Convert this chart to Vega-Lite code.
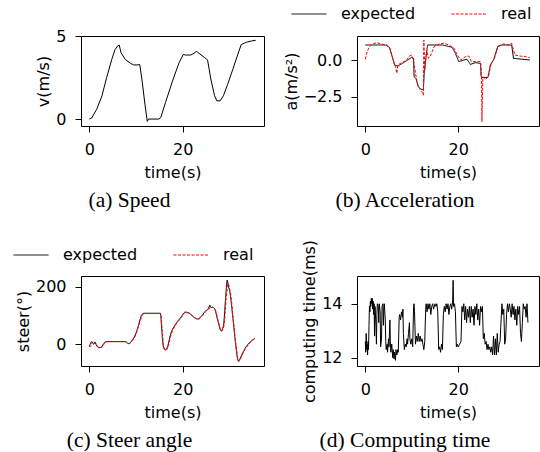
{
  "$schema": "https://vega.github.io/schema/vega-lite/v6.json",
  "padding": {"left": 12, "top": 5, "right": 0, "bottom": 0},
  "background": "white",
  "config": {
    "font": "DejaVu Sans",
    "view": {"stroke": "black", "strokeWidth": 1},
    "axis": {"domain": false, "grid": false, "tickColor": "black", "tickSize": 6, "tickWidth": 1, "labelFont": "DejaVu Sans", "labelFontSize": 16, "labelColor": "black", "titleFont": "DejaVu Sans", "titleFontSize": 16, "titleFontWeight": "normal", "titleColor": "black"},
    "axisX": {"labelPadding": 9, "titlePadding": 7},
    "axisY": {"labelPadding": 9, "titlePadding": 4},
    "title": {"font": "Liberation Serif", "fontSize": 21.5, "fontWeight": "normal", "color": "black", "orient": "bottom", "frame": "group", "dx": -43, "offset": 10}
  },
  "datasets": {
    "speed": [
      {"t":0,"v":0},{"t":0.5,"v":0.06},{"t":1.6,"v":0.6},{"t":2.7,"v":1.4},{"t":3.7,"v":2.5},{"t":4.8,"v":3.6},{"t":5.5,"v":4.2},{"t":6.1,"v":4.43},{"t":6.4,"v":4.47},{"t":6.8,"v":4.0},{"t":7.7,"v":3.6},{"t":8.8,"v":3.37},{"t":9.5,"v":3.27},{"t":10.2,"v":3.27},{"t":10.8,"v":3.29},{"t":11.3,"v":2.3},{"t":11.9,"v":0.9},{"t":12.4,"v":-0.14},{"t":12.7,"v":0},{"t":14.9,"v":0},{"t":15.3,"v":0.1},{"t":16.3,"v":1.0},{"t":17.8,"v":2.3},{"t":19.2,"v":3.4},{"t":20.1,"v":3.9},{"t":20.6,"v":3.87},{"t":21.7,"v":3.87},{"t":22.4,"v":3.97},{"t":22.9,"v":4.09},{"t":23.5,"v":3.97},{"t":24.6,"v":3.73},{"t":25.3,"v":3.57},{"t":26.0,"v":2.42},{"t":26.8,"v":1.41},{"t":27.3,"v":1.1},{"t":28.0,"v":1.1},{"t":28.7,"v":1.41},{"t":29.6,"v":2.1},{"t":30.7,"v":3.0},{"t":31.8,"v":3.93},{"t":32.5,"v":4.5},{"t":33.6,"v":4.64},{"t":34.7,"v":4.72},{"t":35.6,"v":4.76}
    ],
    "accel": [
      {"t":0,"a":1.02,"s":"expected"},{"t":4.5,"a":1.02,"s":"expected"},{"t":5.2,"a":0.86,"s":"expected"},{"t":5.8,"a":0.23,"s":"expected"},{"t":6.3,"a":-0.34,"s":"expected"},{"t":7.0,"a":-0.41,"s":"expected"},{"t":8.0,"a":-0.23,"s":"expected"},{"t":9.1,"a":0,"s":"expected"},{"t":10.0,"a":0.18,"s":"expected"},{"t":10.4,"a":0.11,"s":"expected"},{"t":10.5,"a":-1.14,"s":"expected"},{"t":10.9,"a":-1.25,"s":"expected"},{"t":11.4,"a":-1.8,"s":"expected"},{"t":12.0,"a":-2.0,"s":"expected"},{"t":12.5,"a":-2.0,"s":"expected"},{"t":12.7,"a":-0.9,"s":"expected"},{"t":13.0,"a":0,"s":"expected"},{"t":13.4,"a":1.02,"s":"expected"},{"t":16.6,"a":1.02,"s":"expected"},{"t":18.7,"a":0.86,"s":"expected"},{"t":19.4,"a":0.45,"s":"expected"},{"t":20.1,"a":-0.11,"s":"expected"},{"t":21.2,"a":0,"s":"expected"},{"t":21.9,"a":0.05,"s":"expected"},{"t":22.6,"a":-0.3,"s":"expected"},{"t":23.7,"a":-0.18,"s":"expected"},{"t":24.8,"a":-0.23,"s":"expected"},{"t":24.9,"a":-1.09,"s":"expected"},{"t":25.1,"a":-1.18,"s":"expected"},{"t":26.4,"a":-1.18,"s":"expected"},{"t":26.9,"a":-0.34,"s":"expected"},{"t":27.6,"a":0,"s":"expected"},{"t":28.5,"a":0.91,"s":"expected"},{"t":29.4,"a":1.02,"s":"expected"},{"t":31.5,"a":1.02,"s":"expected"},{"t":31.9,"a":0.11,"s":"expected"},{"t":35.4,"a":0,"s":"expected"},
      {"t":0,"a":0.05,"s":"real"},{"t":0.4,"a":0.57,"s":"real"},{"t":0.9,"a":0.9,"s":"real"},{"t":1.6,"a":1.09,"s":"real"},{"t":2.5,"a":1.18,"s":"real"},{"t":3.4,"a":1.09,"s":"real"},{"t":4.5,"a":1.02,"s":"real"},{"t":5.3,"a":0.8,"s":"real"},{"t":6.0,"a":0,"s":"real"},{"t":6.5,"a":-0.45,"s":"real"},{"t":6.8,"a":-0.9,"s":"real"},{"t":7.0,"a":-0.34,"s":"real"},{"t":7.9,"a":-0.16,"s":"real"},{"t":8.8,"a":-0.05,"s":"real"},{"t":9.5,"a":0.27,"s":"real"},{"t":10.0,"a":0.34,"s":"real"},{"t":10.3,"a":0,"s":"real"},{"t":10.7,"a":-0.68,"s":"real"},{"t":11.2,"a":-1.6,"s":"real"},{"t":11.8,"a":-2.0,"s":"real"},{"t":12.2,"a":-2.16,"s":"real"},{"t":12.5,"a":-2.39,"s":"real"},{"t":12.6,"a":1.36,"s":"real"},{"t":12.8,"a":-0.68,"s":"real"},{"t":13.2,"a":0.68,"s":"real"},{"t":13.6,"a":0.11,"s":"real"},{"t":14.1,"a":0.34,"s":"real"},{"t":14.8,"a":0.9,"s":"real"},{"t":15.9,"a":1.09,"s":"real"},{"t":16.9,"a":1.14,"s":"real"},{"t":18.0,"a":1.02,"s":"real"},{"t":19.1,"a":0.8,"s":"real"},{"t":19.8,"a":0.34,"s":"real"},{"t":20.5,"a":0,"s":"real"},{"t":21.6,"a":0.23,"s":"real"},{"t":22.3,"a":0.27,"s":"real"},{"t":22.8,"a":-0.11,"s":"real"},{"t":24.8,"a":-0.11,"s":"real"},{"t":25.0,"a":-0.9,"s":"real"},{"t":25.1,"a":-4.2,"s":"real"},{"t":25.3,"a":-1.14,"s":"real"},{"t":25.8,"a":-1.32,"s":"real"},{"t":26.5,"a":-1.14,"s":"real"},{"t":27.1,"a":-0.23,"s":"real"},{"t":27.8,"a":0.11,"s":"real"},{"t":28.5,"a":0.91,"s":"real"},{"t":29.7,"a":1.09,"s":"real"},{"t":30.8,"a":1.02,"s":"real"},{"t":31.5,"a":1.14,"s":"real"},{"t":31.9,"a":0.68,"s":"real"},{"t":32.2,"a":0.34,"s":"real"},{"t":33.3,"a":0.27,"s":"real"},{"t":34.4,"a":0.23,"s":"real"},{"t":35.4,"a":0.16,"s":"real"}
    ],
    "steer": [
      {"t":0,"d":-9,"s":"expected"},{"t":0.3,"d":4,"s":"expected"},{"t":0.5,"d":9,"s":"expected"},{"t":0.8,"d":2,"s":"expected"},{"t":1.0,"d":0,"s":"expected"},{"t":1.2,"d":8,"s":"expected"},{"t":1.5,"d":-3,"s":"expected"},{"t":2.0,"d":-12,"s":"expected"},{"t":2.6,"d":-10,"s":"expected"},{"t":3.0,"d":0,"s":"expected"},{"t":3.4,"d":8,"s":"expected"},{"t":3.8,"d":9,"s":"expected"},{"t":5,"d":9,"s":"expected"},{"t":7.7,"d":9,"s":"expected"},{"t":8.4,"d":2,"s":"expected"},{"t":9.1,"d":12,"s":"expected"},{"t":9.9,"d":35,"s":"expected"},{"t":10.6,"d":71,"s":"expected"},{"t":11.2,"d":102,"s":"expected"},{"t":11.7,"d":108,"s":"expected"},{"t":15.2,"d":108,"s":"expected"},{"t":15.5,"d":50,"s":"expected"},{"t":15.8,"d":-4,"s":"expected"},{"t":16.2,"d":-20,"s":"expected"},{"t":16.7,"d":-10,"s":"expected"},{"t":17.4,"d":35,"s":"expected"},{"t":18.5,"d":71,"s":"expected"},{"t":19.6,"d":94,"s":"expected"},{"t":20.5,"d":112,"s":"expected"},{"t":21.4,"d":108,"s":"expected"},{"t":22.4,"d":94,"s":"expected"},{"t":23.2,"d":88,"s":"expected"},{"t":24.1,"d":100,"s":"expected"},{"t":24.8,"d":115,"s":"expected"},{"t":25.5,"d":125,"s":"expected"},{"t":25.8,"d":137,"s":"expected"},{"t":26.0,"d":128,"s":"expected"},{"t":26.4,"d":129,"s":"expected"},{"t":26.8,"d":124,"s":"expected"},{"t":27.5,"d":82,"s":"expected"},{"t":28.2,"d":47,"s":"expected"},{"t":28.7,"d":65,"s":"expected"},{"t":29.2,"d":170,"s":"expected"},{"t":29.5,"d":224,"s":"expected"},{"t":29.8,"d":200,"s":"expected"},{"t":30.0,"d":188,"s":"expected"},{"t":30.7,"d":94,"s":"expected"},{"t":31.3,"d":0,"s":"expected"},{"t":31.9,"d":-59,"s":"expected"},{"t":32.5,"d":-41,"s":"expected"},{"t":33.2,"d":-18,"s":"expected"},{"t":34.3,"d":6,"s":"expected"},{"t":35.4,"d":20,"s":"expected"},
      {"t":0,"d":-5,"s":"real"},{"t":0.3,"d":-8,"s":"real"},{"t":0.6,"d":6,"s":"real"},{"t":0.9,"d":8,"s":"real"},{"t":1.1,"d":2,"s":"real"},{"t":1.3,"d":6,"s":"real"},{"t":1.7,"d":-6,"s":"real"},{"t":2.2,"d":-12,"s":"real"},{"t":2.8,"d":-9,"s":"real"},{"t":3.2,"d":2,"s":"real"},{"t":3.6,"d":8,"s":"real"},{"t":4,"d":9,"s":"real"},{"t":7.7,"d":9,"s":"real"},{"t":8.5,"d":2,"s":"real"},{"t":9.2,"d":12,"s":"real"},{"t":10.0,"d":35,"s":"real"},{"t":10.7,"d":71,"s":"real"},{"t":11.3,"d":100,"s":"real"},{"t":11.8,"d":107,"s":"real"},{"t":15.3,"d":107,"s":"real"},{"t":15.6,"d":48,"s":"real"},{"t":15.9,"d":-6,"s":"real"},{"t":16.3,"d":-22,"s":"real"},{"t":16.8,"d":-12,"s":"real"},{"t":17.5,"d":33,"s":"real"},{"t":18.6,"d":70,"s":"real"},{"t":19.7,"d":93,"s":"real"},{"t":20.6,"d":111,"s":"real"},{"t":21.5,"d":107,"s":"real"},{"t":22.5,"d":93,"s":"real"},{"t":23.3,"d":87,"s":"real"},{"t":24.2,"d":99,"s":"real"},{"t":24.9,"d":114,"s":"real"},{"t":25.6,"d":124,"s":"real"},{"t":26.1,"d":128,"s":"real"},{"t":26.5,"d":128,"s":"real"},{"t":26.9,"d":122,"s":"real"},{"t":27.6,"d":80,"s":"real"},{"t":28.3,"d":45,"s":"real"},{"t":28.8,"d":63,"s":"real"},{"t":29.3,"d":160,"s":"real"},{"t":29.7,"d":212,"s":"real"},{"t":30.0,"d":195,"s":"real"},{"t":30.2,"d":180,"s":"real"},{"t":30.8,"d":90,"s":"real"},{"t":31.4,"d":-5,"s":"real"},{"t":32.0,"d":-60,"s":"real"},{"t":32.6,"d":-42,"s":"real"},{"t":33.3,"d":-19,"s":"real"},{"t":34.4,"d":5,"s":"real"},{"t":35.4,"d":20,"s":"real"}
    ],
    "comp": [
      {"t":0.0,"c":12.6},{"t":0.1,"c":12.2},{"t":0.2,"c":12.9},{"t":0.3,"c":12.3},{"t":0.4,"c":12.5},{"t":0.5,"c":12.1},{"t":0.6,"c":12.6},{"t":0.7,"c":12.3},{"t":0.8,"c":13.2},{"t":0.9,"c":13.9},{"t":1.0,"c":13.7},{"t":1.1,"c":14.1},{"t":1.2,"c":13.9},{"t":1.3,"c":14.2},{"t":1.4,"c":14.0},{"t":1.5,"c":14.2},{"t":1.6,"c":13.8},{"t":1.7,"c":14.1},{"t":1.8,"c":13.6},{"t":1.9,"c":14.0},{"t":2.0,"c":12.8},{"t":2.1,"c":13.9},{"t":2.3,"c":13.2},{"t":2.4,"c":12.5},{"t":2.5,"c":13.6},{"t":2.6,"c":14.0},{"t":2.8,"c":13.9},{"t":2.9,"c":13.3},{"t":3.0,"c":14.0},{"t":3.2,"c":13.7},{"t":3.3,"c":12.4},{"t":3.5,"c":12.7},{"t":3.6,"c":13.9},{"t":3.8,"c":14.0},{"t":3.9,"c":13.2},{"t":4.0,"c":13.8},{"t":4.1,"c":14.0},{"t":4.3,"c":13.4},{"t":4.4,"c":12.6},{"t":4.5,"c":12.3},{"t":4.7,"c":12.5},{"t":4.8,"c":12.2},{"t":5.0,"c":12.7},{"t":5.1,"c":12.4},{"t":5.3,"c":13.4},{"t":5.4,"c":12.6},{"t":5.5,"c":12.2},{"t":5.7,"c":12.5},{"t":5.9,"c":12.0},{"t":6.0,"c":12.3},{"t":6.2,"c":11.95},{"t":6.3,"c":12.2},{"t":6.5,"c":11.9},{"t":6.6,"c":12.3},{"t":6.8,"c":12.1},{"t":7.0,"c":12.3},{"t":7.1,"c":12.2},{"t":7.3,"c":13.5},{"t":7.4,"c":13.6},{"t":7.6,"c":13.4},{"t":7.8,"c":13.7},{"t":8.0,"c":13.5},{"t":8.1,"c":13.8},{"t":8.2,"c":12.9},{"t":8.4,"c":12.3},{"t":8.6,"c":12.5},{"t":8.8,"c":12.4},{"t":9.0,"c":12.7},{"t":9.1,"c":12.5},{"t":9.3,"c":12.9},{"t":9.5,"c":13.3},{"t":9.6,"c":12.7},{"t":9.8,"c":12.5},{"t":10.0,"c":12.7},{"t":10.2,"c":12.4},{"t":10.4,"c":13.9},{"t":10.5,"c":14.0},{"t":10.6,"c":13.7},{"t":10.8,"c":12.5},{"t":11.0,"c":12.8},{"t":11.2,"c":12.6},{"t":11.4,"c":12.9},{"t":11.6,"c":12.6},{"t":11.8,"c":12.8},{"t":12.0,"c":12.6},{"t":12.2,"c":12.7},{"t":12.4,"c":12.5},{"t":12.6,"c":12.3},{"t":12.8,"c":12.6},{"t":13.0,"c":13.8},{"t":13.1,"c":14.0},{"t":13.3,"c":13.7},{"t":13.5,"c":14.0},{"t":13.7,"c":13.8},{"t":13.9,"c":14.0},{"t":14.1,"c":13.6},{"t":14.3,"c":13.9},{"t":14.5,"c":14.0},{"t":14.7,"c":13.8},{"t":15.0,"c":14.0},{"t":15.2,"c":13.9},{"t":15.4,"c":14.0},{"t":15.6,"c":13.7},{"t":15.8,"c":12.3},{"t":16.0,"c":12.4},{"t":16.2,"c":12.2},{"t":16.4,"c":12.5},{"t":16.6,"c":12.3},{"t":16.8,"c":13.6},{"t":17.0,"c":13.9},{"t":17.2,"c":13.7},{"t":17.4,"c":14.0},{"t":17.6,"c":13.8},{"t":17.8,"c":14.0},{"t":18.0,"c":13.6},{"t":18.2,"c":13.9},{"t":18.4,"c":14.0},{"t":18.6,"c":13.8},{"t":18.8,"c":14.1},{"t":18.9,"c":14.87},{"t":19.0,"c":13.9},{"t":19.2,"c":14.0},{"t":19.4,"c":13.7},{"t":19.6,"c":12.4},{"t":19.8,"c":12.5},{"t":20.0,"c":12.4},{"t":20.3,"c":12.5},{"t":20.6,"c":12.6},{"t":20.8,"c":13.9},{"t":21.0,"c":13.7},{"t":21.2,"c":14.0},{"t":21.4,"c":13.4},{"t":21.6,"c":13.9},{"t":21.8,"c":13.3},{"t":22.0,"c":13.8},{"t":22.2,"c":13.5},{"t":22.4,"c":13.9},{"t":22.6,"c":13.3},{"t":22.8,"c":13.9},{"t":23.0,"c":13.5},{"t":23.2,"c":13.8},{"t":23.4,"c":13.2},{"t":23.6,"c":13.9},{"t":23.8,"c":13.6},{"t":24.0,"c":14.0},{"t":24.2,"c":13.4},{"t":24.4,"c":13.8},{"t":24.6,"c":13.2},{"t":24.8,"c":13.9},{"t":25.0,"c":13.7},{"t":25.2,"c":13.9},{"t":25.4,"c":12.7},{"t":25.6,"c":12.9},{"t":25.8,"c":12.5},{"t":26.0,"c":12.6},{"t":26.2,"c":12.3},{"t":26.4,"c":12.5},{"t":26.6,"c":12.3},{"t":26.8,"c":12.4},{"t":27.0,"c":12.2},{"t":27.2,"c":12.4},{"t":27.4,"c":12.1},{"t":27.6,"c":12.8},{"t":27.8,"c":12.1},{"t":28.0,"c":12.7},{"t":28.2,"c":12.1},{"t":28.4,"c":12.9},{"t":28.6,"c":12.2},{"t":28.8,"c":12.5},{"t":29.0,"c":12.6},{"t":29.2,"c":13.3},{"t":29.4,"c":14.0},{"t":29.6,"c":13.6},{"t":29.8,"c":13.8},{"t":30.0,"c":12.5},{"t":30.2,"c":12.7},{"t":30.4,"c":13.6},{"t":30.6,"c":14.0},{"t":30.8,"c":13.7},{"t":31.0,"c":14.0},{"t":31.2,"c":13.8},{"t":31.4,"c":13.5},{"t":31.6,"c":14.0},{"t":31.8,"c":13.6},{"t":32.0,"c":13.9},{"t":32.2,"c":13.4},{"t":32.4,"c":13.8},{"t":32.6,"c":13.2},{"t":32.8,"c":13.9},{"t":33.0,"c":13.6},{"t":33.2,"c":13.9},{"t":33.4,"c":12.9},{"t":33.6,"c":12.6},{"t":33.8,"c":13.3},{"t":34.0,"c":14.0},{"t":34.2,"c":13.8},{"t":34.4,"c":13.9},{"t":34.6,"c":13.5},{"t":34.8,"c":14.0},{"t":35.0,"c":13.3}
    ]
  },
  "columns": 2,
  "spacing": {"row": 150, "column": 93},
  "bounds": "flush",
  "resolve": {"scale": {"color": "independent", "strokeDash": "independent", "x": "independent", "y": "independent"}, "legend": {"color": "independent", "strokeDash": "independent"}},
  "concat": [
    {
      "width": 183, "height": 90,
      "title": {"text": "(a) Speed"},
      "data": {"name": "speed"},
      "mark": {"type": "line", "color": "black", "strokeWidth": 1},
      "encoding": {
        "x": {"field": "t", "type": "quantitative", "title": "time(s)", "scale": {"domain": [-1.78, 37.38], "nice": false, "zero": false}, "axis": {"values": [0, 20]}},
        "y": {"field": "v", "type": "quantitative", "title": "v(m/s)", "scale": {"domain": [-0.42, 5.02], "nice": false, "zero": false}, "axis": {"values": [0, 5]}}
      }
    },
    {
      "width": 182, "height": 90,
      "title": {"text": "(b) Acceleration"},
      "data": {"name": "accel"},
      "mark": {"type": "line", "strokeWidth": 1},
      "encoding": {
        "x": {"field": "t", "type": "quantitative", "title": "time(s)", "scale": {"domain": [-1.78, 37.38], "nice": false, "zero": false}, "axis": {"values": [0, 20]}},
        "y": {"field": "a", "type": "quantitative", "title": "a(m/s²)", "scale": {"domain": [-4.48, 1.63], "nice": false, "zero": false}, "axis": {"values": [0, -2.5], "format": ".1f"}},
        "color": {"field": "s", "type": "nominal", "scale": {"domain": ["expected", "real"], "range": ["black", "red"]}, "legend": {"orient": "none", "direction": "horizontal", "legendX": -66, "legendY": -30, "title": null, "symbolType": "stroke", "symbolSize": 1225, "symbolStrokeWidth": 1, "labelFontSize": 16, "labelFont": "DejaVu Sans", "labelColor": "black", "labelOffset": 14, "columnPadding": 35, "clipHeight": 16}},
        "strokeDash": {"field": "s", "type": "nominal", "scale": {"domain": ["expected", "real"], "range": [[1, 0], [3, 1.5]]}, "legend": {"orient": "none", "direction": "horizontal", "legendX": -66, "legendY": -30, "title": null, "symbolType": "stroke", "symbolSize": 1225, "symbolStrokeWidth": 1, "labelFontSize": 16, "labelFont": "DejaVu Sans", "labelColor": "black", "labelOffset": 14, "columnPadding": 35, "clipHeight": 16}}
      }
    },
    {
      "width": 183, "height": 90,
      "title": {"text": "(c) Steer angle"},
      "data": {"name": "steer"},
      "mark": {"type": "line", "strokeWidth": 1, "interpolate": "monotone"},
      "encoding": {
        "x": {"field": "t", "type": "quantitative", "title": "time(s)", "scale": {"domain": [-1.78, 37.38], "nice": false, "zero": false}, "axis": {"values": [0, 20]}},
        "y": {"field": "d", "type": "quantitative", "title": "steer(°)", "scale": {"domain": [-76, 238], "nice": false, "zero": false}, "axis": {"values": [0, 200]}},
        "color": {"field": "s", "type": "nominal", "scale": {"domain": ["expected", "real"], "range": ["black", "red"]}, "legend": {"orient": "none", "direction": "horizontal", "legendX": -68, "legendY": -29, "title": null, "symbolType": "stroke", "symbolSize": 1225, "symbolStrokeWidth": 1, "labelFontSize": 16, "labelFont": "DejaVu Sans", "labelColor": "black", "labelOffset": 14, "columnPadding": 35, "clipHeight": 16}},
        "strokeDash": {"field": "s", "type": "nominal", "scale": {"domain": ["expected", "real"], "range": [[1, 0], [3, 1.5]]}, "legend": {"orient": "none", "direction": "horizontal", "legendX": -68, "legendY": -29, "title": null, "symbolType": "stroke", "symbolSize": 1225, "symbolStrokeWidth": 1, "labelFontSize": 16, "labelFont": "DejaVu Sans", "labelColor": "black", "labelOffset": 14, "columnPadding": 35, "clipHeight": 16}}
      }
    },
    {
      "width": 182, "height": 90,
      "title": {"text": "(d) Computing time"},
      "data": {"name": "comp"},
      "mark": {"type": "line", "color": "black", "strokeWidth": 1},
      "encoding": {
        "x": {"field": "t", "type": "quantitative", "title": "time(s)", "scale": {"domain": [-1.78, 37.38], "nice": false, "zero": false}, "axis": {"values": [0, 20]}},
        "y": {"field": "c", "type": "quantitative", "title": "computing time(ms)", "scale": {"domain": [11.69, 15.03], "nice": false, "zero": false}, "axis": {"values": [12, 14]}}
      }
    }
  ]
}
